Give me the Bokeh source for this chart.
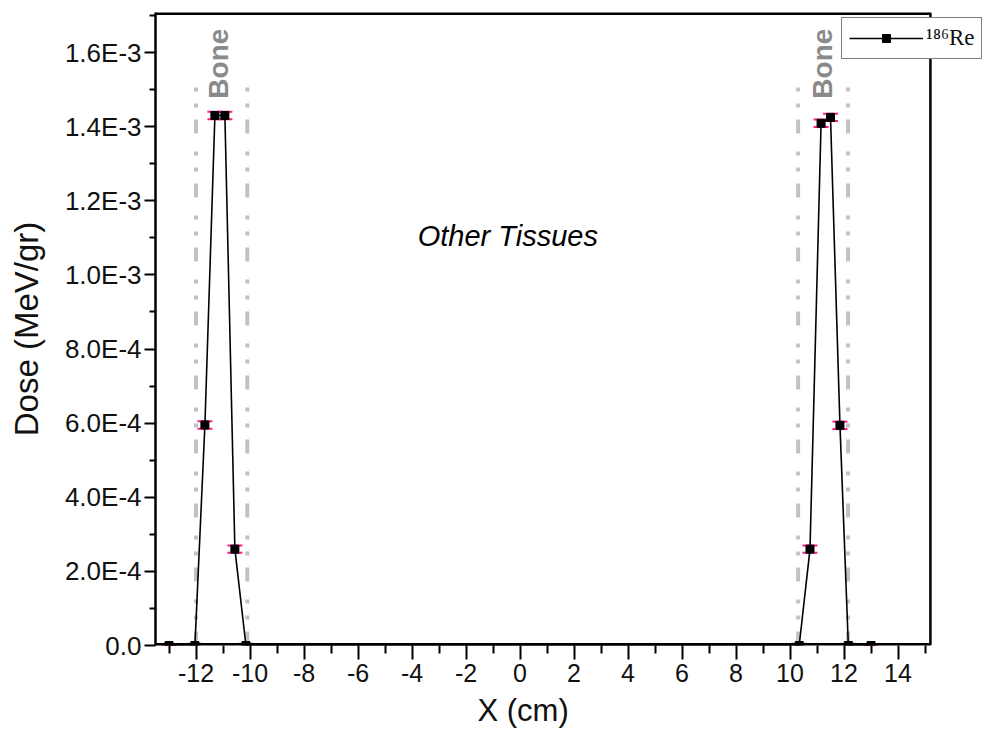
import math
from bokeh.plotting import figure
from bokeh.models import (Range1d, FixedTicker, Whisker, ColumnDataSource, Legend,
                          LegendItem, TeeHead)
from bokeh.core.properties import value
from bokeh.embed import file_html
from bokeh.resources import INLINE

# ---- data ----
x_cm = [-13.0, -12.04, -11.67, -11.30, -10.93, -10.56, -10.15,
        10.34, 10.74, 11.15, 11.50, 11.85, 12.16, 13.0]
dose = [0.0, 0.0, 5.95e-4, 1.43e-3, 1.43e-3, 2.60e-4, 0.0,
        0.0, 2.60e-4, 1.409e-3, 1.425e-3, 5.94e-4, 0.0, 0.0]
dose_err = [0.0, 0.5e-5, 1.0e-5, 1.0e-5, 1.0e-5, 1.0e-5, 0.5e-5,
            0.5e-5, 1.0e-5, 1.0e-5, 1.0e-5, 1.0e-5, 0.5e-5, 0.0]

bone_edges = [-12.0, -10.1, 10.3, 12.15]
bone_edge_top = 1.515e-3
bone_label_x = [-11.15, 11.2]
bone_label_y = [1.57e-3, 1.57e-3]
bone_labels = ["Bone", "Bone"]
tissue_label = ["Other Tissues"]
tissue_x = [-0.45]
tissue_y = [1.104e-3]

x_ticks = [-12, -10, -8, -6, -4, -2, 0, 2, 4, 6, 8, 10, 12, 14]
x_tick_labels = ["-12", "-10", "-8", "-6", "-4", "-2", "0", "2", "4", "6",
                 "8", "10", "12", "14"]
x_minor = [-13, -11, -9, -7, -5, -3, -1, 1, 3, 5, 7, 9, 11, 13, 15]
y_ticks = [0.0, 2e-4, 4e-4, 6e-4, 8e-4, 1e-3, 1.2e-3, 1.4e-3, 1.6e-3]
y_tick_labels = ["0.0", "2.0E-4", "4.0E-4", "6.0E-4", "8.0E-4", "1.0E-3",
                 "1.2E-3", "1.4E-3", "1.6E-3"]
y_minor = [1e-4, 3e-4, 5e-4, 7e-4, 9e-4, 1.1e-3, 1.3e-3, 1.5e-3, 1.7e-3]
series_name = "\u00b9\u2078\u2076Re"
x_title = "X (cm)"
y_title = "Dose (MeV/gr)"

# axis box limits (the plotted box ends at x_box_hi; the frame continues
# to the right so that the legend can overhang the box as in the original)
x_lo, x_box_hi, x_view_hi = -13.5, 15.2, 17.24
y_lo, y_hi = 0.0, 1.708e-3

FONT = "Liberation Sans"

p = figure(frame_width=830, frame_height=633, output_backend="svg",
           toolbar_location=None,
           x_range=Range1d(x_lo, x_view_hi), y_range=Range1d(y_lo, y_hi))
p.min_border_left = 155
p.min_border_top = 12
p.min_border_right = 0
p.min_border_bottom = 94
p.xgrid.visible = False
p.ygrid.visible = False
p.outline_line_color = None
p.background_fill_color = "white"
p.border_fill_color = "white"

# axes
xa = p.xaxis[0]
xa.ticker = FixedTicker(ticks=x_ticks, minor_ticks=x_minor)
xa.major_label_overrides = {t: l for t, l in zip(x_ticks, x_tick_labels)}
# trailing no-break spaces shift the centred title left, under the box centre
xa.axis_label = x_title + "\u00a0" * 11
xa.axis_line_color = None
xa.major_tick_line_width = 2
xa.minor_tick_line_width = 2
xa.major_tick_out = 14
xa.major_tick_in = 0
xa.minor_tick_out = 8
xa.minor_tick_in = 0
xa.major_label_text_font = FONT
xa.major_label_text_font_size = "25px"
xa.major_label_text_color = "#111111"
xa.major_label_standoff = 4
xa.axis_label_text_font = FONT
xa.axis_label_text_font_size = "31px"
xa.axis_label_text_font_style = "normal"
xa.axis_label_text_color = "#111111"
xa.axis_label_standoff = 8

ya = p.yaxis[0]
ya.ticker = FixedTicker(ticks=y_ticks, minor_ticks=y_minor)
ya.major_label_overrides = {t: l for t, l in zip(y_ticks, y_tick_labels)}
ya.axis_label = y_title
ya.axis_line_width = 2.5
ya.major_tick_line_width = 2
ya.minor_tick_line_width = 2
ya.major_tick_out = 11
ya.major_tick_in = 0
ya.minor_tick_out = 6
ya.minor_tick_in = 0
ya.major_label_text_font = FONT
ya.major_label_text_font_size = "26px"
ya.major_label_text_color = "#111111"
ya.major_label_standoff = 3
ya.axis_label_text_font = FONT
ya.axis_label_text_font_size = "33px"
ya.axis_label_text_font_style = "normal"
ya.axis_label_text_color = "#111111"
ya.axis_label_standoff = 17

# box lines (bottom, top, right)
p.segment(x0=[x_lo, x_lo], x1=[x_box_hi, x_box_hi], y0=[y_lo, y_hi], y1=[y_lo, y_hi],
          line_color="black", line_width=5)
p.segment(x0=[x_box_hi], x1=[x_box_hi], y0=[y_lo], y1=[y_hi],
          line_color="black", line_width=2.5)

# bone boundaries
edge_src = ColumnDataSource(dict(x=bone_edges, y0=[0.0] * len(bone_edges),
                                 y1=[bone_edge_top] * len(bone_edges)))
p.segment(x0="x", x1="x", y0="y0", y1="y1", source=edge_src,
          line_color="#c2c2c2", line_width=4, line_dash="14 12 4 12 4 18")

# data
src = ColumnDataSource(dict(x=x_cm, y=dose,
                            lo=[d - e for d, e in zip(dose, dose_err)],
                            hi=[d + e for d, e in zip(dose, dose_err)]))
line_r = p.line("x", "y", source=src, line_color="black", line_width=1.6)
p.add_layout(Whisker(source=src, base="x", lower="lo", upper="hi",
                     line_color="#ff1a8c", line_width=1.5,
                     upper_head=TeeHead(size=15, line_color="#ff1a8c", line_width=2),
                     lower_head=TeeHead(size=15, line_color="#ff1a8c", line_width=2)))
sc_r = p.scatter("x", "y", source=src, marker="square", size=8,
                 fill_color="black", line_color="black")

# texts
bsrc = ColumnDataSource(dict(x=bone_label_x, y=bone_label_y, t=bone_labels))
p.text("x", "y", text="t", source=bsrc, angle=math.pi / 2,
       text_font=value(FONT), text_font_size="28px", text_font_style="bold",
       text_color="#8a8a8a", text_align="center", text_baseline="middle")
tsrc = ColumnDataSource(dict(x=tissue_x, y=tissue_y, t=tissue_label))
p.text("x", "y", text="t", source=tsrc,
       text_font=value(FONT), text_font_size="29px", text_font_style="italic",
       text_color="black", text_align="center", text_baseline="middle")

# legend
legend = Legend(items=[LegendItem(label=series_name, renderers=[line_r, sc_r])],
                location=(686, 586), orientation="vertical",
                glyph_width=74, glyph_height=20, label_height=20,
                label_standoff=3, padding=7, margin=0, spacing=0,
                border_line_color="black", border_line_width=1.5,
                background_fill_color="white", background_fill_alpha=1.0,
                label_text_font="Liberation Serif", label_text_font_size="23px",
                label_text_color="#111111")
p.add_layout(legend, "center")

open("out.html", "w").write(file_html(p, INLINE))
